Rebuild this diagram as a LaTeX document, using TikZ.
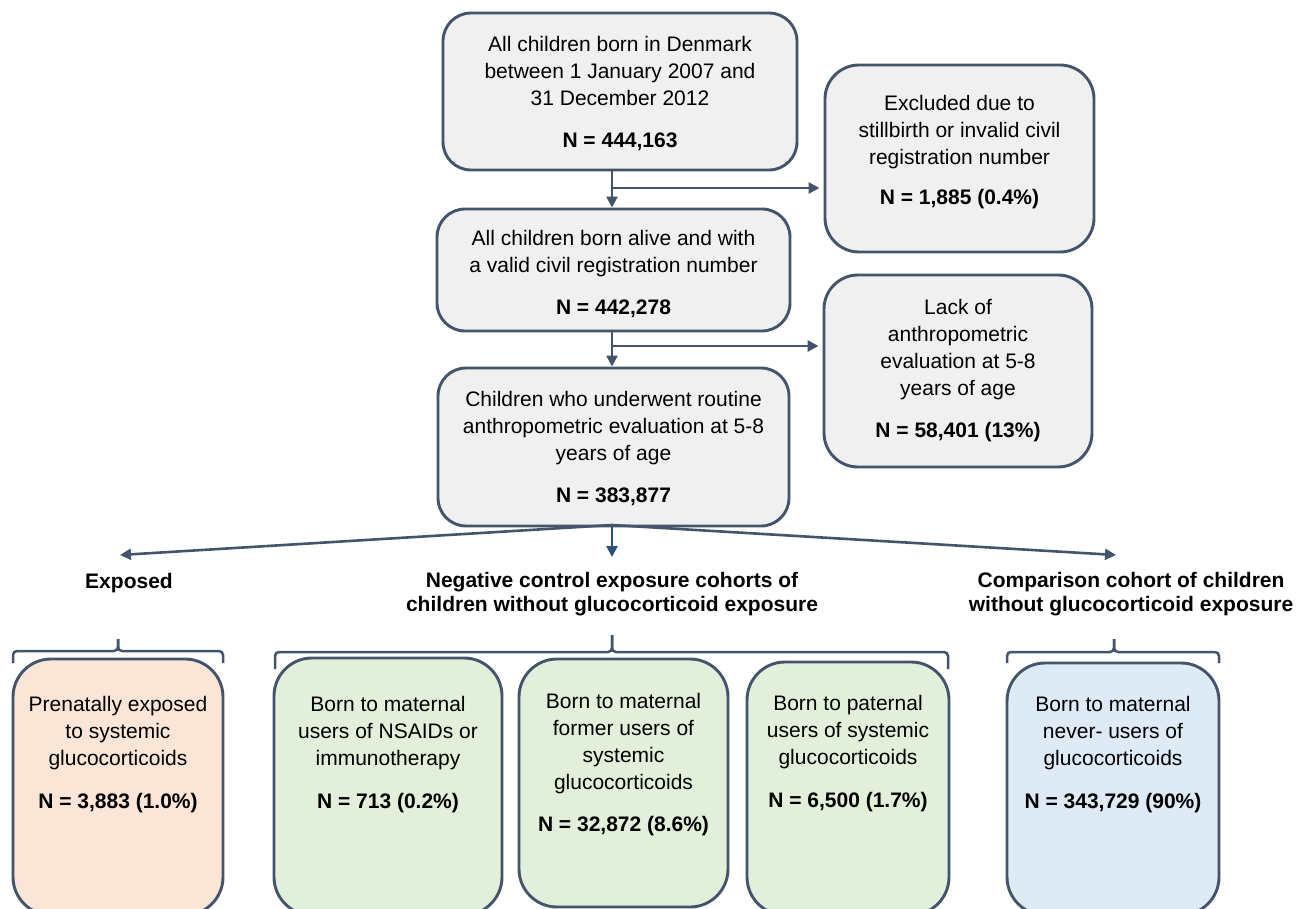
\documentclass[tikz,border=0pt]{standalone}
\usepackage{fontspec}
\setmainfont{Liberation Sans}
\usetikzlibrary{arrows.meta}
\definecolor{bordc}{HTML}{44546A}
\definecolor{arrc}{HTML}{2A527E}
\definecolor{grayf}{HTML}{F0F0F0}
\definecolor{peachf}{HTML}{FBE5D6}
\definecolor{greenf}{HTML}{E2EFDA}
\definecolor{bluef}{HTML}{DEEAF6}
\tikzset{
  box/.style={draw=bordc, line width=2.9pt, rounded corners=28pt, inner sep=0pt, fill=grayf},
  sidebox/.style={box, rounded corners=34pt},
  lowbox/.style={box, rounded corners=38pt},
  txt/.style={align=center, font=\fontsize{21}{27}\selectfont, inner sep=0pt, text=black},
  hdr/.style={align=center, font=\fontsize{21}{24}\selectfont\bfseries, inner sep=0pt, text=black},
  arr/.style={draw=bordc, line width=2.6pt, -{Triangle[length=11pt,width=11pt]}},
  carr/.style={draw=arrc, line width=2.6pt, -{Triangle[length=11pt,width=11pt]}},
  brk/.style={draw=bordc, line width=2.5pt, rounded corners=4pt},
}
\begin{document}
\begin{tikzpicture}[x=1pt,y=-1pt]
\useasboundingbox (0,0) rectangle (1298,909);

% top column boxes
\node[box, minimum width=354pt, minimum height=157pt] (b1) at (620,91.5) {};
\node[txt] (t1) at (620,93.5) {All children born in Denmark\\between 1 January 2007 and\\31 December 2012\\[15pt]\textbf{N = 444,163}};

\node[box, minimum width=353pt, minimum height=122pt] (b3) at (613.5,270) {};
\node[txt] (t3) at (613.5,274.5) {All children born alive and with\\a valid civil registration number\\[15pt]\textbf{N = 442,278}};

\node[box, minimum width=351pt, minimum height=158pt] (b5) at (613.5,447) {};
\node[txt] (t5) at (613.5,448.5) {Children who underwent routine\\anthropometric evaluation at 5-8\\years of age\\[15pt]\textbf{N = 383,877}};

% side boxes
\node[sidebox, minimum width=269pt, minimum height=187pt] (ex) at (959.5,158.5) {};
\node[txt] (tex) at (959.5,152) {Excluded due to\\stillbirth or invalid civil\\registration number\\[13pt]\textbf{N = 1,885 (0.4\%)}};

\node[sidebox, minimum width=268pt, minimum height=192pt] (lk) at (958,371) {};
\node[txt] (tlk) at (958,370.5) {Lack of\\anthropometric\\evaluation at 5-8\\years of age\\[15pt]\textbf{N = 58,401 (13\%)}};

% spine and junctions
\coordinate (spine) at (612,0);
\coordinate (j1) at (612,188);
\coordinate (j2) at (612,346);
\draw[arr] (b1.south -| spine) -- (b3.north -| spine);
\draw[arr, shorten >=4pt] (j1) -- (j1 -| ex.west);
\draw[arr] (b3.south -| spine) -- (b5.north -| spine);
\draw[arr, shorten >=4pt] (j2) -- (j2 -| lk.west);

% three-way split
\coordinate (src) at (612,525);
\coordinate (lt) at (120,555);
\coordinate (ct) at (612,557);
\coordinate (rt) at (1116,555);
\draw[arr] (src) -- (lt);
\draw[arr] (src) -- (rt);
\draw[carr] (b5.south -| spine) -- (ct);

% headers
\node[hdr] (hexp) at (129,583) {Exposed};
\node[hdr] (hneg) at (612,594) {Negative control exposure cohorts of\\children without glucocorticoid exposure};
\node[hdr] (hcmp) at (1131,594) {Comparison cohort of children\\without glucocorticoid exposure};

% brackets
\draw[brk] (13,663) -- (13,651) -- (118,651) -- (118,639);
\draw[brk] (223,663) -- (223,651) -- (118,651) -- (118,639);
\draw[brk] (275,669) -- (275,652) -- (612,652) -- (612,635);
\draw[brk] (948,669) -- (948,652) -- (612,652) -- (612,635);
\draw[brk] (1007,663) -- (1007,652) -- (1114,652) -- (1114,639);
\draw[brk] (1219,663) -- (1219,652) -- (1114,652) -- (1114,639);

% bottom boxes
\node[lowbox, fill=peachf, minimum width=210pt, minimum height=256pt] (p1) at (118,787) {};
\node[txt] (tp1) at (118,754.5) {Prenatally exposed\\to systemic\\glucocorticoids\\[16pt]\textbf{N = 3,883 (1.0\%)}};

\node[lowbox, fill=greenf, minimum width=228pt, minimum height=257pt] (g1) at (388,786.5) {};
\node[txt] (tg1) at (388,754.5) {Born to maternal\\users of NSAIDs or\\immunotherapy\\[16pt]\textbf{N = 713 (0.2\%)}};

\node[lowbox, fill=greenf, minimum width=209pt, minimum height=248pt] (g2) at (623.5,783) {};
\node[txt] (tg2) at (623.5,765) {Born to maternal\\former users of\\systemic\\glucocorticoids\\[15pt]\textbf{N = 32,872 (8.6\%)}};

\node[lowbox, fill=greenf, minimum width=202pt, minimum height=253pt] (g3) at (848,788.5) {};
\node[txt] (tg3) at (848,753.5) {Born to paternal\\users of systemic\\glucocorticoids\\[16pt]\textbf{N = 6,500 (1.7\%)}};

\node[lowbox, fill=bluef, minimum width=212pt, minimum height=252pt] (bl) at (1113,789) {};
\node[txt] (tbl) at (1113,754.5) {Born to maternal\\never- users of\\glucocorticoids\\[16pt]\textbf{N = 343,729 (90\%)}};
\end{tikzpicture}
\end{document}
